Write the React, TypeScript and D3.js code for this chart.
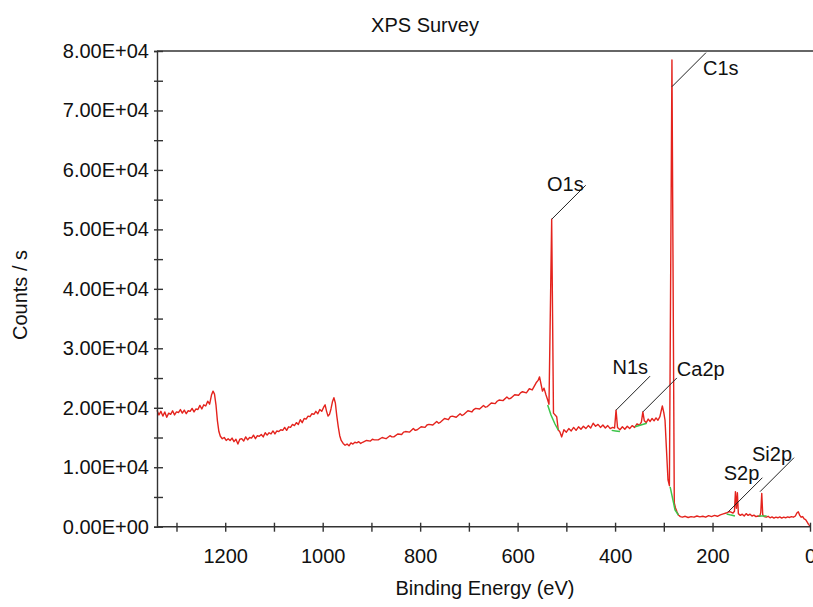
import React, { useEffect, useRef } from 'react'
import * as d3 from 'd3'

// survey spectrum: [binding energy (eV), counts/s]
const survey: [number, number][] = [
  [1340, 19600], [1336, 18800], [1332, 19400], [1330, 19000], [1328, 18600], [1324, 19300], [1320, 18400],
  [1316, 19100], [1312, 18900], [1308, 19500], [1304, 18800], [1300, 19300], [1296, 19200],
  [1292, 19700], [1288, 19100], [1284, 19600], [1280, 19000], [1276, 19500], [1272, 19400],
  [1268, 19900], [1264, 19300], [1260, 19800], [1256, 19700], [1252, 20400], [1248, 19800],
  [1244, 20500], [1240, 20300], [1236, 21100], [1232, 20600], [1228, 22200], [1225, 22800],
  [1222, 22300], [1219, 20500], [1216, 17800], [1213, 16000], [1210, 15200], [1206, 14800],
  [1202, 15000], [1198, 14500], [1194, 14800], [1190, 14500], [1186, 14900], [1182, 14300],
  [1178, 14700], [1174, 13900], [1170, 14700], [1166, 14800], [1162, 14400], [1158, 15100],
  [1154, 14600], [1150, 15000], [1146, 14900], [1142, 15400], [1138, 14800], [1134, 15300],
  [1130, 15200], [1126, 15500], [1122, 15100], [1118, 15800], [1114, 15400], [1110, 15800],
  [1106, 15600], [1102, 16100], [1098, 15600], [1094, 16100], [1090, 16000], [1086, 16300],
  [1082, 16200], [1078, 16700], [1074, 16200], [1070, 16800], [1066, 16700], [1062, 17200],
  [1058, 17000], [1054, 17500], [1050, 17200], [1046, 18000], [1042, 17500], [1038, 18200],
  [1034, 18100], [1030, 18600], [1026, 18500], [1022, 19000], [1018, 18900], [1014, 19400],
  [1010, 19000], [1006, 19700], [1002, 19400], [998, 20100], [995, 20500], [992, 19400],
  [989, 18600], [986, 18900], [983, 19800], [980, 21000], [977, 21700], [974, 20800],
  [971, 18600], [968, 16800], [965, 15300], [962, 14500], [958, 14000], [954, 13700],
  [950, 13900], [946, 13600], [942, 14100], [938, 13900], [934, 14200], [930, 14100],
  [926, 14300], [922, 14000], [918, 14200], [910, 14500], [902, 14400], [898, 14700], [894, 14600], [886, 14600],
  [878, 15000], [874, 14900], [870, 14800], [862, 15300], [858, 15100], [854, 15100], [846, 15600], [838, 15500],
  [834, 15900], [830, 16000], [822, 15900], [814, 16500], [810, 16200], [806, 16300], [798, 16800], [790, 16700],
  [786, 17100], [782, 17200], [774, 17100], [766, 17700], [762, 17400], [758, 17600], [750, 18200], [742, 18000],
  [738, 18500], [734, 18600], [726, 18400], [718, 19000], [714, 18700], [710, 18900], [702, 19500], [694, 19300],
  [690, 19700], [686, 19900], [678, 19800], [670, 20400], [666, 20100], [662, 20200], [654, 20800], [646, 20700],
  [642, 21100], [638, 21300], [630, 21200], [622, 21800], [618, 21500], [614, 21600], [606, 22200], [598, 22100],
  [594, 22500], [590, 22700], [582, 22500], [576, 23200], [570, 23000], [566, 23600], [562, 24200],
  [558, 24600], [555, 25200], [552, 24000], [549, 22800], [545.8, 23300], [541.7, 22150],
  [538.3, 21300], [535.6, 20600], [530.1, 51700], [526.4, 19100], [519.8, 18500],
  [516.6, 16300], [513, 15900], [509.5, 15100], [505, 16300], [500, 15900], [495, 16500],
  [490, 16100], [485, 16700], [480, 16200], [475, 16800], [470, 16400], [465, 16900],
  [460, 16500], [455, 17000], [450, 16600], [445, 17400], [440, 16900], [435, 17200],
  [430, 16700], [425, 17100], [420, 16600], [415, 17000], [410, 16500], [405, 16700],
  [401, 16600], [398, 19600], [395, 16700], [390, 16300], [385, 16800], [380, 16400],
  [375, 16900], [370, 16500], [365, 17000], [360, 16700], [355, 17300], [350, 17100],
  [346, 17600], [343, 19300], [340, 17800], [336, 17500], [332, 18100], [328, 17700],
  [324, 18200], [320, 17800], [316, 18300], [312, 17900], [308, 18500], [305, 19600],
  [303, 20300], [300, 19200], [297.5, 17900], [294.5, 12900], [291.4, 7900], [288.5, 6900],
  [283.3, 78500], [278.5, 4000], [276, 3150], [273, 2500], [270, 1970], [266, 1700],
  [262, 1600], [256, 1750], [250, 1550], [244, 1700], [238, 1600], [232, 1800],
  [226, 1650], [220, 1750], [214, 1600], [208, 1850], [202, 1700], [196, 1900],
  [190, 1750], [184, 2000], [178, 2150], [172, 2300], [166, 2550], [162, 2450],
  [158, 2300], [155, 2600], [153, 5900], [151, 3100], [149, 5700], [147, 2200],
  [143, 1900], [139, 2100], [135, 1800], [131, 2200], [127, 1900], [123, 2100],
  [119, 1800], [115, 1950], [111, 1700], [107, 1800], [103, 1750], [101, 2400],
  [99, 5600], [97, 2000], [94, 1700], [90, 1600], [86, 1750], [82, 1500],
  [78, 1650], [74, 1450], [70, 1600], [66, 1500], [62, 1650], [58, 1450],
  [54, 1600], [50, 1500], [46, 1650], [42, 1550], [38, 1700], [34, 1600],
  [30, 1800], [27, 2300], [24, 2500], [21, 1900], [18, 1600], [15, 1700],
  [12, 1300], [9, 1200], [6, 800], [3, 400], [0, 100],
]

// fitted backgrounds under the peaks (green)
const bgO1s: [number, number][] = [[538.3, 20470], [531.5, 18780], [523.3, 17270], [516.5, 16260]]
const bgN1s: [number, number][] = [[407, 16200], [399, 16100], [390, 16000]]
const bgCa2p: [number, number][] = [[359, 16800], [347, 17100], [335, 17400]]
const bgC1s: [number, number][] = [[287, 6700], [280, 4000], [277, 2800], [270, 1970]]
const bgS2p: [number, number][] = [[171, 2140], [162, 1950], [154, 1800]]
const bgSi2p: [number, number][] = [[106, 1800], [97, 1800], [89, 1800]]
const backgrounds = [bgO1s, bgN1s, bgCa2p, bgC1s, bgS2p, bgSi2p]

// peak labels: name, where the leader starts (eV, counts)
const peakNames = ['O1s', 'C1s', 'N1s', 'Ca2p', 'S2p', 'Si2p']
const peakEnergies = [530.1, 283.3, 398, 343, 167.5, 102.6]
const peakCounts = [51700, 74000, 19600, 19300, 2520, 5890]

const xTicks = d3.range(0, 1301, 100)
const yTicks = d3.range(0, 80001, 5000)

const W = 813
const H = 607
const margin = { left: 157, right: 3, top: 51, bottom: 80.3 }
const FONT = 'Liberation Sans, Arial, Helvetica, sans-serif'

function sci(v: number) {
  if (v === 0) return '0.00E+00'
  const e = Math.floor(Math.log10(v))
  const m = v / Math.pow(10, e)
  return `${m.toFixed(2)}E+${String(e).padStart(2, '0')}`
}

export default function App() {
  const xAxisRef = useRef<SVGGElement>(null)
  const yAxisRef = useRef<SVGGElement>(null)

  const x = d3.scaleLinear().domain([1340, 0]).range([margin.left, W - margin.right])
  const y = d3.scaleLinear().domain([0, 80000]).range([H - margin.bottom, margin.top])

  const line = d3.line<[number, number]>()
    .x(d => x(d[0]))
    .y(d => y(d[1]))

  useEffect(() => {
    const xAxis = d3.axisBottom(x)
      .tickValues(xTicks)
      .tickFormat(d => (+d % 200 === 0 ? String(d) : ''))
      .tickSizeOuter(0)
      .tickSize(5)
      .tickPadding(17)
    const gx = d3.select(xAxisRef.current)
    gx.call(xAxis as any)
    gx.selectAll('.tick line').attr('y1', -4).attr('y2', 5)
    gx.select('.domain').attr('d', `M${margin.left},0H${W - margin.right}`)

    const yAxis = d3.axisLeft(y)
      .tickValues(yTicks)
      .tickFormat(d => (+d % 10000 === 0 ? sci(+d) : ''))
      .tickSizeOuter(0)
      .tickSize(3)
      .tickPadding(5)
    const gy = d3.select(yAxisRef.current)
    gy.call(yAxis as any)
    gy.selectAll('.tick line').attr('x1', -3).attr('x2', 6)

    for (const g of [gx, gy]) {
      g.attr('font-family', FONT).attr('font-size', 20)
      g.selectAll('line, path').attr('stroke', '#333').attr('stroke-width', 1.4)
      g.selectAll('text').attr('fill', '#111')
    }
  })

  // where each label's text sits relative to the end of its leader line
  const textPlace: Record<string, { anchor: string; dx: number; dy: number }> = {
    O1s: { anchor: 'end', dx: -2, dy: 6 },
    C1s: { anchor: 'start', dx: -3, dy: 22 },
    N1s: { anchor: 'end', dx: -2, dy: -2 },
    Ca2p: { anchor: 'start', dx: 0, dy: -2 },
    S2p: { anchor: 'end', dx: -3, dy: 2 },
    Si2p: { anchor: 'end', dx: -2, dy: 3 },
  }

  return (
    <div style={{ position: 'absolute', left: 0, top: 0 }}>
      <svg width={W} height={H} style={{ display: 'block', background: '#fff' }}>
        <text x={425} y={31.5} textAnchor="middle" fontFamily={FONT} fontSize={20} fill="#111">
          XPS Survey
        </text>
        <line x1={margin.left} x2={W} y1={margin.top} y2={margin.top} stroke="#333" strokeWidth={1.4} />

        <path d={line(survey) || ''} fill="none" stroke="#e4231d" strokeWidth={1.4} strokeLinejoin="round" />
        {backgrounds.map((bg, i) => (
          <path key={i} d={line(bg) || ''} fill="none" stroke="#3cc44a" strokeWidth={1.5} />
        ))}

        {peakNames.map((name, i) => {
          const x0 = x(peakEnergies[i])
          const y0 = y(peakCounts[i])
          const x1 = x0 + 34
          const y1 = y0 - 34
          const p = textPlace[name]
          return (
            <g key={name}>
              <line x1={x0} y1={y0} x2={x1} y2={y1} stroke="#222" strokeWidth={1} />
              <text x={x1 + p.dx} y={y1 + p.dy} textAnchor={p.anchor} fontFamily={FONT} fontSize={20} fill="#111">
                {name}
              </text>
            </g>
          )
        })}

        <g ref={xAxisRef} transform={`translate(0,${H - margin.bottom})`} />
        <g ref={yAxisRef} transform={`translate(${margin.left},0)`} />

        <text x={485} y={595} textAnchor="middle" fontFamily={FONT} fontSize={20} fill="#111">
          Binding Energy (eV)
        </text>
        <text transform="translate(27,295) rotate(-90)" textAnchor="middle" fontFamily={FONT} fontSize={20} fill="#111">
          Counts / s
        </text>
      </svg>
    </div>
  )
}
